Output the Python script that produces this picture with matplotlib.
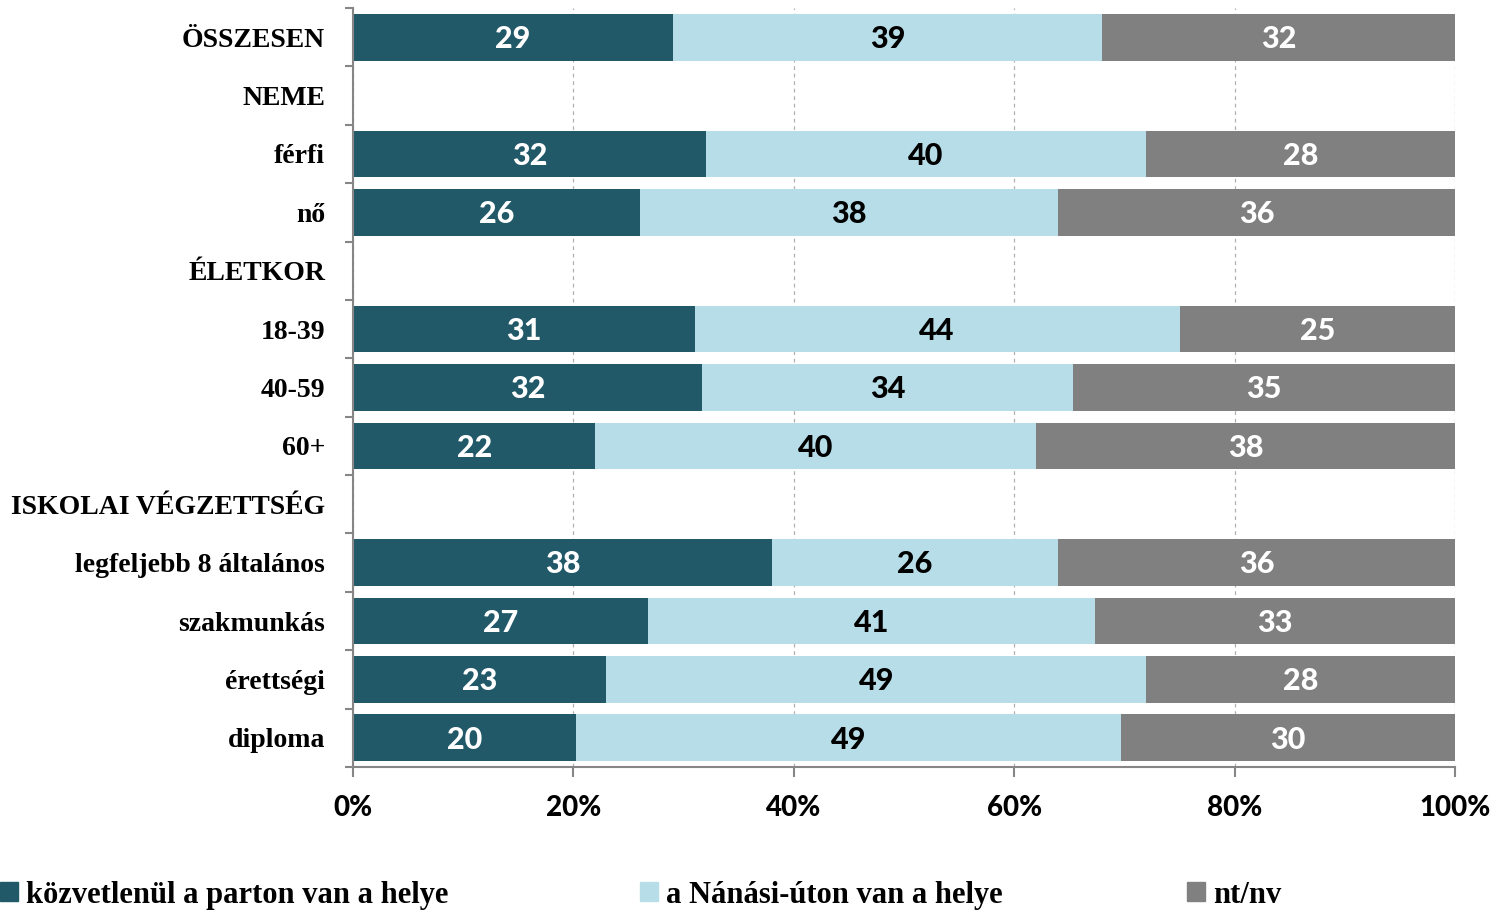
import matplotlib.pyplot as plt
import numpy as np
from matplotlib.patches import Patch

# Data (rows from top to bottom; header rows have no bars)
categories = ['ÖSSZESEN', 'NEME', 'férfi', 'nő', 'ÉLETKOR', '18-39', '40-59', '60+',
              'ISKOLAI VÉGZETTSÉG', 'legfeljebb 8 általános', 'szakmunkás',
              'érettségi', 'diploma']
nan = np.nan
direct_values = [29, nan, 32, 26, nan, 31, 32, 22, nan, 38, 27, 23, 20]
nanasi_values = [39, nan, 40, 38, nan, 44, 34, 40, nan, 26, 41, 49, 49]
ntnv_values = [32, nan, 28, 36, nan, 25, 35, 38, nan, 36, 33, 28, 30]
series_labels = ['közvetlenül a parton van a helye', 'a Nánási-úton van a helye', 'nt/nv']

colors = ['#215968', '#B7DEE8', '#808080']
text_colors = ['white', 'black', 'white']
label_font = 'Liberation Serif'
num_font = 'Lato'

W, H = 1507, 913
fig = plt.figure(figsize=(W / 100, H / 100), dpi=100)
ax = fig.add_axes([353 / W, 1 - 767 / H, (1455 - 353) / W, (767 - 8) / H])

data = np.array([direct_values, nanasi_values, ntnv_values], dtype=float)
totals = np.nansum(data, axis=0)
shares = np.where(totals > 0, data / np.where(totals > 0, totals, 1) * 100, np.nan)

y = np.arange(len(categories))
left = np.zeros(len(categories))
for i in range(3):
    widths = np.nan_to_num(shares[i])
    ax.barh(y, widths, left=left, height=0.8, color=colors[i], zorder=2)
    for j in range(len(categories)):
        if not np.isnan(data[i, j]):
            ax.text(left[j] + widths[j] / 2, y[j] + 0.03, f'{int(data[i, j])}',
                    ha='center', va='center', color=text_colors[i],
                    fontsize=22, fontweight='black', family=num_font, zorder=3)
    left += widths

ax.set_xlim(0, 100)
ax.set_ylim(len(categories) - 0.5, -0.5)

# x axis
ax.set_xticks(np.arange(0, 101, 20))
ax.set_xticklabels([f'{v}%' for v in range(0, 101, 20)])
ax.tick_params(axis='x', length=7, width=1.5, color='#868686', pad=13)
for lbl in ax.get_xticklabels():
    lbl.set_fontfamily(num_font)
    lbl.set_fontweight('black')
    lbl.set_fontsize(20)
ax.grid(True, axis='x', linestyle=(0, (3, 3)), color='#B0B0B0', linewidth=0.9, zorder=0)
ax.set_axisbelow(True)

# y axis: labels at rows, tick marks between rows
ax.set_yticks(y)
ax.set_yticklabels(categories)
ax.set_yticks(np.arange(-0.5, len(categories) + 0.5, 1), minor=True)
ax.tick_params(axis='y', which='major', length=0, pad=20)
ax.tick_params(axis='y', which='minor', length=6, width=1.5, color='#868686')
for lbl in ax.get_yticklabels():
    lbl.set_fontfamily(label_font)
    lbl.set_fontweight('bold')
    lbl.set_fontsize(20)

for side in ['top', 'right']:
    ax.spines[side].set_visible(False)
for side in ['left', 'bottom']:
    ax.spines[side].set_color('#868686')
    ax.spines[side].set_linewidth(1.5)

# Legend entries placed along the bottom
legend_x = [0, 640, 1187]
for i in range(3):
    fig.legend(handles=[Patch(color=colors[i])], labels=[series_labels[i]],
               loc='center left', bbox_to_anchor=(legend_x[i] / W, 1 - 895 / H),
               frameon=False, handlelength=0.6, handleheight=0.6,
               handletextpad=0.25, borderpad=0, borderaxespad=0,
               prop={'family': label_font, 'weight': 'bold', 'size': 22})

plt.savefig('out.png', dpi=100)
